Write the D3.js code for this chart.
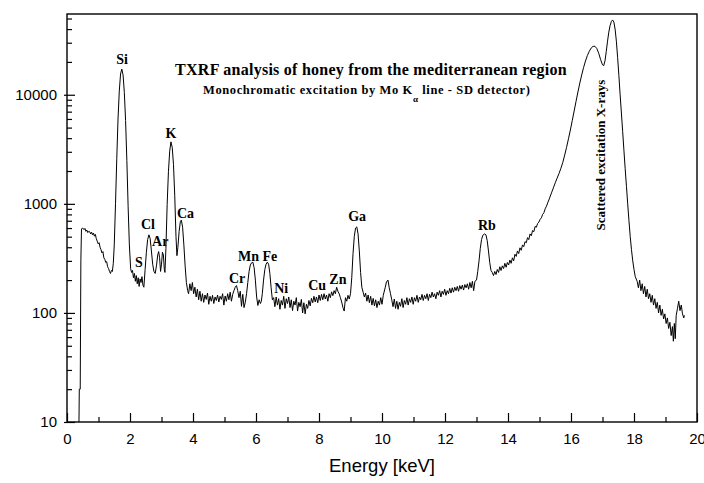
<!DOCTYPE html>
<html>
<head>
<meta charset="utf-8">
<script src="https://cdn.jsdelivr.net/npm/d3@7"></script>
<style>
  body { margin: 0; background: #fff; }
  .tick text { font-family: "Liberation Sans", Arial, sans-serif; font-size: 15px; fill: #000; }
  .lbl { font-family: "Liberation Serif", "Times New Roman", serif; font-weight: bold; fill: #000; }
</style>
</head>
<body>
<svg width="704" height="483"></svg>
<script>
// spectrum: [energy keV, counts]
const spectrum = [
  [0.38,10],[0.39,20],[0.42,20],[0.44,300],[0.46,590],[0.5,600],[0.54,580],[0.57,595],[0.6,560],[0.63,575],
  [0.66,545],[0.69,560],[0.72,555],[0.75,530],[0.78,550],[0.81,520],[0.84,540],[0.87,505],[0.9,525],[0.93,480],
  [0.96,455],[0.99,430],[1.02,440],[1.05,400],[1.08,380],[1.11,355],[1.14,365],[1.17,320],[1.2,310],[1.23,290],
  [1.26,295],[1.29,265],[1.32,255],[1.35,240],[1.38,230],[1.41,245],[1.44,240],
  [1.47,285],[1.5,420],[1.54,1000],[1.58,2600],[1.62,6000],[1.66,10800],[1.7,15500],[1.74,17200],[1.78,15200],
  [1.82,10500],[1.86,5800],[1.9,2500],[1.94,950],[1.98,420],[2.02,255],
  [2.05,235],[2.08,245],[2.11,210],[2.14,230],[2.17,195],[2.2,220],[2.23,185],[2.26,210],[2.29,175],[2.32,205],
  [2.35,190],[2.38,215],[2.41,180],[2.44,172],
  [2.48,250],[2.52,360],[2.56,470],[2.6,520],[2.64,480],[2.68,370],[2.72,280],[2.76,240],[2.8,230],
  [2.84,270],[2.88,340],[2.91,365],[2.94,320],[2.97,240],[3.0,280],[3.03,360],[3.06,340],[3.09,250],[3.11,235],
  [3.14,390],[3.18,990],[3.22,1970],[3.26,3040],[3.3,3700],[3.34,3300],[3.38,2300],[3.42,1200],[3.46,500],
  [3.49,335],[3.52,400],[3.56,560],[3.6,690],[3.63,710],[3.67,610],[3.71,420],[3.75,270],[3.79,190],[3.83,160],[3.86,150],
  [3.9,185],[3.94,160],[3.98,190],[4.02,150],[4.06,172],[4.1,140],[4.14,165],[4.18,132],[4.22,158],[4.26,128],
  [4.3,150],[4.34,125],[4.38,146],[4.42,133],[4.46,152],[4.5,120],[4.54,142],[4.58,128],[4.62,145],[4.66,122],
  [4.7,140],[4.74,130],[4.78,146],[4.82,126],[4.86,142],[4.9,133],[4.94,150],[4.98,118],[5.02,143],[5.06,128],
  [5.1,150],[5.14,132],[5.18,155],[5.22,128],[5.26,148],
  [5.3,160],[5.34,172],[5.38,178],[5.42,160],[5.46,138],[5.5,158],[5.54,115],[5.58,148],[5.62,112],[5.66,125],
  [5.7,150],[5.74,190],[5.78,240],[5.82,275],[5.86,288],[5.9,292],[5.94,260],[5.98,200],[6.02,140],[6.06,117],
  [6.1,132],[6.14,122],[6.17,128],[6.2,150],[6.24,200],[6.28,250],[6.32,280],[6.36,292],[6.4,280],[6.44,230],
  [6.48,170],[6.52,132],[6.56,138],[6.6,114],
  [6.64,140],[6.68,118],[6.72,135],[6.76,108],[6.8,130],[6.84,118],[6.88,142],[6.92,110],[6.96,135],[7.0,122],
  [7.04,140],[7.08,112],[7.12,132],[7.16,105],[7.2,128],[7.24,118],[7.28,138],[7.32,104],[7.36,125],[7.4,114],
  [7.44,133],[7.48,100],[7.52,124],[7.56,98],[7.6,120],[7.64,110],[7.68,130],[7.72,116],[7.76,136],[7.8,124],
  [7.84,142],[7.88,126],[7.92,140],[7.96,124],[8.0,146],[8.04,130],[8.08,148],[8.12,132],[8.16,150],[8.2,134],
  [8.24,146],[8.28,128],[8.32,150],[8.36,138],[8.4,156],[8.44,144],[8.48,160],[8.52,150],[8.56,172],[8.6,158],
  [8.64,150],[8.68,138],[8.72,126],[8.76,112],[8.8,104],[8.84,138],[8.88,128],[8.92,145],[8.96,134],[9.0,150],
  [9.04,210],[9.08,350],[9.12,500],[9.16,600],[9.2,615],[9.24,530],[9.28,370],[9.32,235],[9.36,172],[9.4,155],
  [9.44,140],[9.48,152],[9.52,128],[9.56,146],[9.6,124],[9.64,142],[9.68,118],[9.72,136],[9.76,116],[9.8,132],
  [9.84,112],[9.88,128],[9.92,118],[9.96,138],[10.0,120],[10.04,145],
  [10.1,170],[10.14,192],[10.19,200],[10.23,170],[10.27,150],[10.31,132],[10.35,114],[10.39,134],[10.43,110],
  [10.47,128],[10.51,108],[10.55,125],[10.59,115],[10.63,135],[10.67,112],[10.71,130],[10.75,120],[10.79,138],
  [10.83,118],[10.87,135],[10.91,125],[10.95,140],[10.99,120],[11.03,138],[11.07,128],[11.11,145],[11.15,125],
  [11.19,140],[11.23,132],[11.27,148],[11.31,130],[11.35,145],[11.39,135],[11.43,150],[11.47,130],[11.51,148],
  [11.55,138],[11.59,155],[11.63,140],[11.67,150],[11.71,135],[11.75,155],[11.79,145],[11.83,160],[11.87,140],
  [11.91,158],[11.95,148],[11.99,165],[12.03,145],[12.07,160],[12.11,150],[12.15,168],[12.19,152],[12.23,170],
  [12.27,155],[12.31,172],[12.35,160],[12.39,175],[12.43,158],[12.47,178],[12.51,165],[12.55,180],[12.59,162],
  [12.63,182],[12.67,170],[12.71,185],[12.75,165],[12.79,190],[12.83,170],[12.87,195],[12.91,160],[12.95,195],
  [13.0,200],[13.04,240],[13.08,300],[13.12,390],[13.16,470],[13.2,515],[13.26,530],[13.3,520],[13.34,460],
  [13.38,370],[13.42,290],[13.46,245],[13.5,235],[13.54,220],
  [13.58,240],[13.62,225],[13.66,250],[13.7,235],[13.74,265],[13.78,245],[13.82,270],[13.86,255],[13.9,285],
  [13.94,262],[13.98,290],[14.02,275],[14.06,305],[14.1,285],[14.14,320],[14.18,300],[14.22,345],[14.26,330],
  [14.3,370],[14.34,350],[14.38,395],[14.42,375],[14.46,420],[14.5,405],[14.54,450],[14.58,440],[14.62,490],
  [14.66,470],[14.7,530],[14.74,510],[14.78,570],[14.82,555],[14.86,620],[14.9,610],[14.94,660],[14.98,680],
  [15.02,720],[15.06,745],[15.1,800],[15.14,830],[15.18,900],[15.22,950],[15.26,1020],
  [15.32,1130],[15.38,1260],[15.44,1400],[15.5,1560],[15.56,1720],[15.62,1900],[15.68,2120],[15.74,2400],
  [15.8,2800],[15.86,3300],[15.92,3950],[15.98,4750],[16.04,5800],[16.1,7100],[16.16,8700],[16.22,10600],
  [16.28,12800],[16.34,15200],[16.4,17800],[16.46,20400],[16.52,22900],[16.58,25000],[16.64,26800],[16.7,27800],
  [16.76,27800],[16.82,26500],[16.88,24000],[16.94,21000],[17.0,18800],[17.04,18500],[17.08,20500],[17.12,25000],
  [17.16,31000],[17.2,37500],[17.24,43000],[17.28,46800],[17.32,48500],[17.36,46500],[17.4,40000],[17.44,31000],
  [17.48,22000],[17.52,15000],[17.56,10000],[17.6,6800],[17.64,4600],[17.68,3100],[17.72,2100],[17.76,1450],
  [17.8,1000],[17.84,700],[17.88,500],[17.92,380],[17.96,300],[18.0,250],[18.04,215],
  [18.1,195],[18.14,170],[18.18,200],[18.22,160],[18.26,185],[18.3,150],[18.34,175],[18.38,140],[18.42,165],
  [18.46,135],[18.5,150],[18.54,125],[18.58,145],[18.62,118],[18.66,135],[18.7,110],[18.74,125],[18.78,100],
  [18.82,118],[18.86,95],[18.9,108],[18.94,88],[18.98,98],[19.02,80],[19.06,90],[19.1,72],[19.14,82],[19.18,62],
  [19.22,75],[19.25,55],[19.28,80],[19.31,58],[19.34,95],[19.38,110],[19.42,128],[19.46,105],[19.5,118],
  [19.54,98],[19.58,90],[19.6,95]
];

// element labels: name, energy, counts at label baseline
const peakNames = ["Si","S","Cl","Ar","K","Ca","Cr","Mn","Fe","Ni","Cu","Zn","Ga","Rb"];
const peakE     = [1.75, 2.28, 2.57, 2.96, 3.30, 3.76, 5.40, 5.76, 6.44, 6.80, 7.94, 8.60, 9.21, 13.33];
const peakY     = [19100, 264, 588, 410, 4010, 741, 188, 299, 299, 152, 162, 184, 695, 575];

const xMajor = [0,2,4,6,8,10,12,14,16,18,20];
const xMinor = [1,3,5,7,9,11,13,15,17,19];
const yMajor = [10,100,1000,10000];
const yMinor = [20,30,40,50,60,70,80,90,200,300,400,500,600,700,800,900,
                2000,3000,4000,5000,6000,7000,8000,9000,20000,30000,40000,50000];

const margin = {top: 14, right: 7, bottom: 61, left: 67};
const width = 704, height = 483;
const w = width - margin.left - margin.right,
      h = height - margin.top - margin.bottom;

const svg = d3.select("svg");
const g = svg.append("g").attr("transform", `translate(${margin.left},${margin.top})`);

const x = d3.scaleLinear().domain([0, 20]).range([0, w]);
const y = d3.scaleLog().domain([10, 55000]).range([h, 0]);

// spectrum
const line = d3.line().x(d => x(d[0])).y(d => y(d[1]));
g.append("path")
  .datum(spectrum)
  .attr("fill", "none")
  .attr("stroke", "#000")
  .attr("stroke-width", 1)
  .attr("stroke-linejoin", "round")
  .attr("d", line);

// x axis
g.append("g")
  .attr("transform", `translate(0,${h})`)
  .call(d3.axisBottom(x).tickValues(xMajor).tickSize(-9).tickSizeOuter(0).tickPadding(11).tickFormat(d3.format("d")))
  .call(a => a.select(".domain").remove());
g.append("g")
  .attr("transform", `translate(0,${h})`)
  .call(d3.axisBottom(x).tickValues(xMinor).tickSize(-5).tickSizeOuter(0).tickFormat(""))
  .call(a => a.select(".domain").remove());

// y axis
g.append("g")
  .call(d3.axisLeft(y).tickValues(yMajor).tickSize(-8).tickSizeOuter(0).tickPadding(10).tickFormat(d3.format("d")))
  .call(a => a.select(".domain").remove())
  .call(a => a.selectAll(".tick line").attr("x1", -3));
g.append("g")
  .call(d3.axisLeft(y).tickValues(yMinor).tickSize(-5).tickSizeOuter(0).tickFormat(""))
  .call(a => a.select(".domain").remove());

g.selectAll(".tick line").attr("stroke", "#000").attr("stroke-width", 1.2);

// frame
g.append("rect")
  .attr("width", w).attr("height", h)
  .attr("fill", "none").attr("stroke", "#000").attr("stroke-width", 1.4);

// element labels
g.selectAll(".peak")
  .data(peakNames)
  .join("text")
  .attr("class", "lbl peak")
  .attr("x", (d, i) => x(peakE[i]))
  .attr("y", (d, i) => y(peakY[i]))
  .attr("text-anchor", "middle")
  .attr("font-size", "14px")
  .text(d => d);

// scattered X-rays label
g.append("text")
  .attr("class", "lbl")
  .attr("transform", `translate(${x(17.08)},${y(2800)}) rotate(-90)`)
  .attr("text-anchor", "middle")
  .attr("font-size", "13px")
  .text("Scattered excitation X-rays");

// titles
svg.append("text")
  .attr("class", "lbl")
  .attr("x", 371).attr("y", 75)
  .attr("text-anchor", "middle")
  .attr("font-size", "16px")
  .attr("letter-spacing", "0.25px")
  .text("TXRF analysis of honey from the mediterranean region");

const sub = svg.append("text")
  .attr("class", "lbl")
  .attr("x", 203).attr("y", 94)
  .attr("font-size", "12.5px")
  .attr("letter-spacing", "0.6px");
sub.append("tspan").text("Monochromatic excitation by Mo K");
sub.append("tspan").attr("dy", 8).attr("font-size", "9px").text("α");
sub.append("tspan").attr("dy", -8).text(" line - SD detector)");

// x axis label
svg.append("text")
  .attr("x", 382).attr("y", 472)
  .attr("text-anchor", "middle")
  .attr("font-family", "Liberation Sans, Arial, sans-serif")
  .attr("font-size", "18.5px")
  .text("Energy [keV]");
</script>
</body>
</html>
